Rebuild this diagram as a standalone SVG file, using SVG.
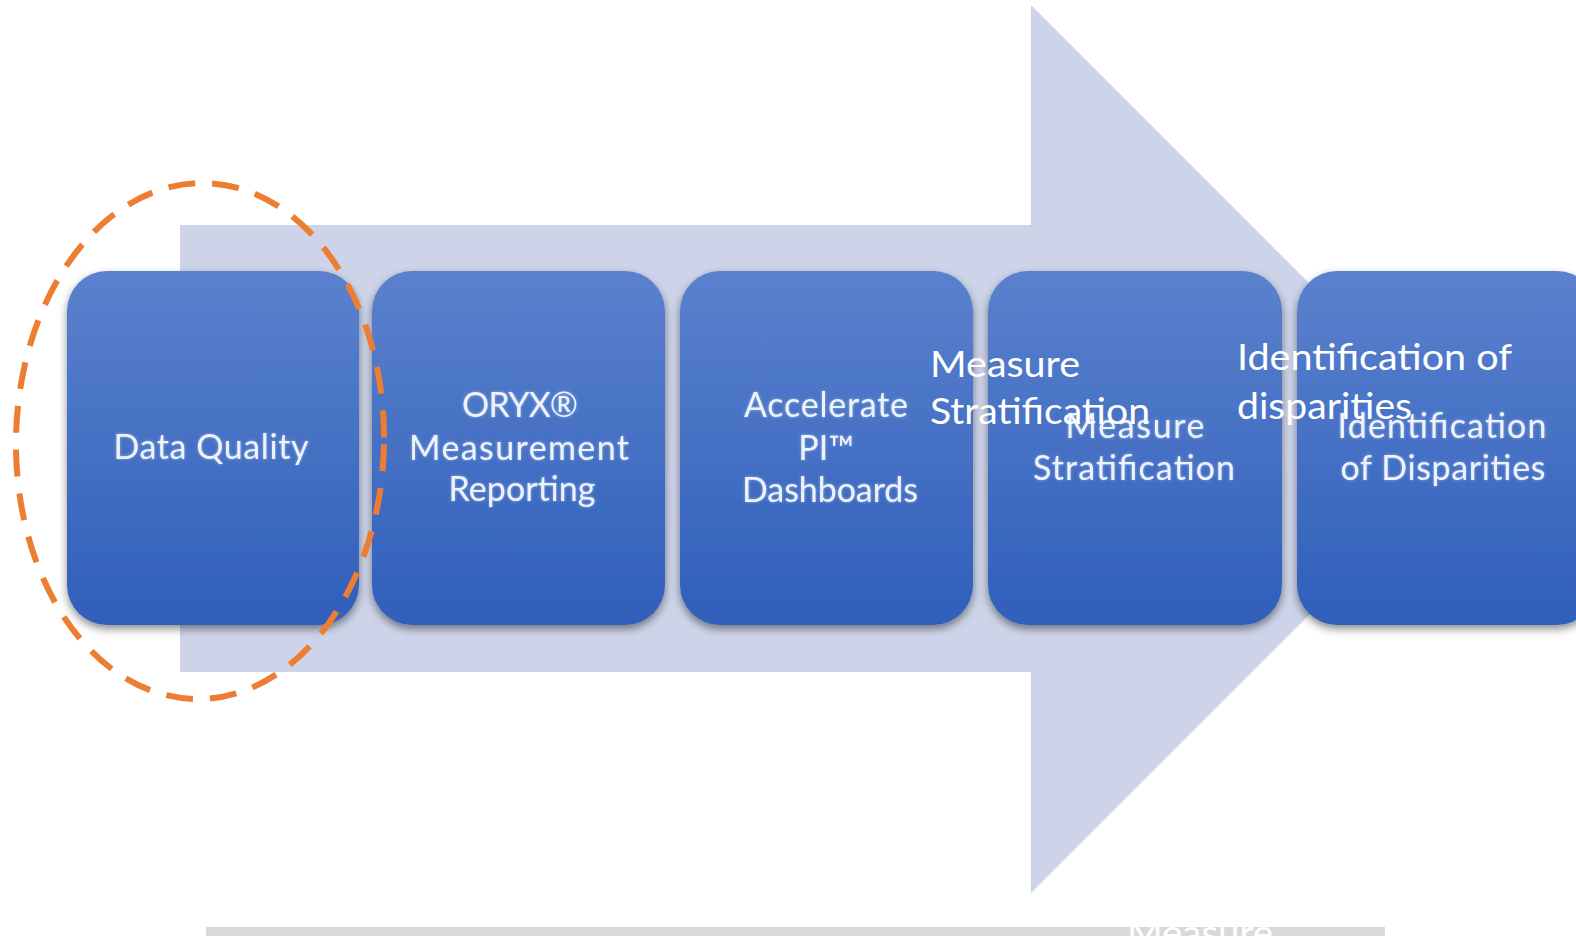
<svg xmlns="http://www.w3.org/2000/svg" width="1576" height="936" viewBox="0 0 1576 936">
  <defs>
    <linearGradient id="boxFill" x1="0" y1="0" x2="0" y2="1">
      <stop offset="0" stop-color="#5b81cd"/>
      <stop offset="0.5" stop-color="#4570c4"/>
      <stop offset="1" stop-color="#2f5fba"/>
    </linearGradient>
    <filter id="boxShadow" x="-10%" y="-10%" width="120%" height="125%">
      <feDropShadow dx="0" dy="4" stdDeviation="4" flood-color="#000" flood-opacity="0.45"/>
    </filter>
    <filter id="softGlow" x="-10%" y="-30%" width="120%" height="160%">
      <feGaussianBlur in="SourceAlpha" stdDeviation="1.6" result="b"/>
      <feFlood flood-color="#cfe0ff" flood-opacity="0.55"/>
      <feComposite in2="b" operator="in" result="g"/>
      <feMerge>
        <feMergeNode in="g"/>
        <feMergeNode in="SourceGraphic"/>
      </feMerge>
    </filter>
    <style>
      .box { fill: url(#boxFill); filter: url(#boxShadow); }
      .label { font-family: Lato, "Open Sans", "Liberation Sans", sans-serif; font-size: 34px; fill: #eef3fb; text-anchor: middle; filter: url(#softGlow); }
      .overlay { font-family: Lato, "Open Sans", "Liberation Sans", sans-serif; font-size: 37px; fill: #ffffff; }
    </style>
  </defs>

  <rect width="1576" height="936" fill="#ffffff"/>

  <!-- broad process arrow behind the steps -->
  <g id="connectors">
    <path d="M180 225 H1031 V5 L1475 449 L1031 893 V672 H180 Z" fill="#cdd4e9"/>
  </g>

  <!-- footer strip -->
  <g id="footer">
    <rect x="206" y="927" width="1179" height="9" fill="#d9d9d9"/>
    <text x="1127" y="946" textLength="146" lengthAdjust="spacingAndGlyphs" class="overlay" font-size="34">Measure</text>
  </g>

  <g id="step-data-quality">
    <rect class="box" x="67" y="271" width="292" height="354" rx="40"/>
    <text class="label" x="211" y="459" textLength="195" lengthAdjust="spacing">Data Quality</text>
  </g>

  <g id="step-oryx">
    <rect class="box" x="372" y="271" width="293" height="354" rx="40"/>
    <text class="label" x="520" y="417" textLength="116" lengthAdjust="spacing">ORYX®</text>
    <text class="label" x="519" y="460" textLength="220" lengthAdjust="spacing">Measurement</text>
    <text class="label" x="522" y="501" textLength="147" lengthAdjust="spacing">Reporting</text>
  </g>

  <g id="step-accelerate">
    <rect class="box" x="680" y="271" width="293" height="354" rx="40"/>
    <text class="label" x="826" y="417" textLength="164" lengthAdjust="spacing">Accelerate</text>
    <text class="label" x="826" y="460">PI™</text>
    <text class="label" x="830" y="502" textLength="176" lengthAdjust="spacing">Dashboards</text>
  </g>

  <g id="step-stratification">
    <rect class="box" x="988" y="271" width="294" height="354" rx="40"/>
    <text class="label" x="1135" y="438" textLength="139" lengthAdjust="spacing">Measure</text>
    <text class="label" x="1134" y="480" textLength="202" lengthAdjust="spacing">Stratification</text>
  </g>

  <g id="step-disparities">
    <rect class="box" x="1297" y="271" width="300" height="354" rx="40"/>
    <text class="label" x="1442" y="438" textLength="209" lengthAdjust="spacing">Identification</text>
    <text class="label" x="1443" y="480" textLength="205" lengthAdjust="spacing">of Disparities</text>
  </g>

  <!-- annotation labels placed over the last two steps -->
  <g id="annotations">
    <text class="overlay" x="930" y="377" textLength="150" lengthAdjust="spacingAndGlyphs">Measure</text>
    <text class="overlay" x="930" y="424" textLength="220" lengthAdjust="spacingAndGlyphs">Stratification</text>
    <text class="overlay" x="1237" y="370" textLength="275" lengthAdjust="spacingAndGlyphs">Identification of</text>
    <text class="overlay" x="1237" y="419" textLength="175" lengthAdjust="spacingAndGlyphs">disparities</text>
  </g>

  <!-- dashed highlight around the first step -->
  <g id="highlight">
    <ellipse cx="200" cy="441" rx="184" ry="258" transform="rotate(1 200 441)" fill="none" stroke="#ed7d31" stroke-width="6" stroke-dasharray="27 17"/>
  </g>
</svg>
